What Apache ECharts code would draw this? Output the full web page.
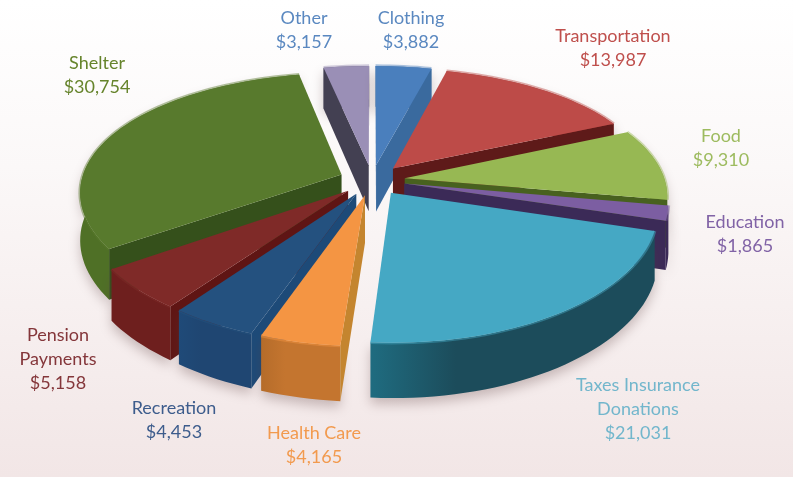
<!DOCTYPE html>
<html><head><meta charset="utf-8">
<style>html,body{margin:0;padding:0;width:793px;height:477px;overflow:hidden}#c{width:793px;height:477px}</style>
<script src="https://cdn.jsdelivr.net/npm/echarts@6/dist/echarts.min.js"></script></head>
<body><div id="c"></div>
<script>
const categories = ['Clothing','Transportation','Food','Education','Taxes Insurance\nDonations','Health Care','Recreation','Pension\nPayments','Shelter','Other'];
const values = [3882,13987,9310,1865,21031,4165,4453,5158,30754,3157];
const topColors = ['#4a7fbd','#bd4b48','#97b853','#7c5ea2','#45a8c4','#f49543','#24517f','#7f2a28','#587a2d','#9a8fb6'];
const wallColors = ['#3a6a9e','#8f2f2c','#6f8c36','#3b2a57','#1c4c5b','#c4752f','#1f4672','#6e1f1e','#4f7026','#46435a'];
const wallEdge = ['#3a6a9e','#8f2f2c','#6f8c36','#3b2a57','#1f6c80','#b56c2a','#1f4a78','#6e1f1e','#4f7026','#46435a'];
const cutColors = ['#3a6a9e','#5e1a19','#48611f','#3b2a57','#1f7186','#c4852f','#1d4a78','#5f1514','#35501b','#434052'];
const labelColors = ['#5a88c0','#bf4f4c','#9dbb5f','#8163a6','#72b6cc','#f29a4e','#3d5c8c','#84363a','#66842c','#5a88c0'];
const drawOrder = [9,0,8,1,2,3,7,4,6,5];
const labelAnchors = [[411,30],[613,48],[721,148],[745,234],[638,409],[314,445],[174,420],[58,359],[97,75],[304,30]];

const cx=372, cy=180, R=260, tilt=0.462, perspX=7.3, perspY=6, depth=47, explode=33;
const total = values.reduce((a,b)=>a+b,0);
const fmt = v => '$' + v.toLocaleString('en-US');

function pt(a, r, mid, z){
  const X = explode*Math.sin(mid) + r*R*Math.sin(a);
  const Y = explode*Math.cos(mid) + r*R*Math.cos(a);
  const px = perspX/(perspX+Y/R), py = perspY/(perspY+Y/R);
  return [cx+X*px, cy-Y*tilt*py+z*px];
}
function renderItem(params, api){
  const i = params.dataIndex;
  let before = 0;
  for(let k=0;k<i;k++) before += values[k];
  const v = api.value(0);
  const a0 = before/total*2*Math.PI, a1 = (before+v)/total*2*Math.PI, mid=(a0+a1)/2;
  const n = Math.max(3,Math.ceil((a1-a0)/(Math.PI/90)));
  const rimT=[], rimB=[];
  for(let k=0;k<=n;k++){const a=a0+(a1-a0)*k/n; rimT.push(pt(a,1,mid,0)); rimB.push(pt(a,1,mid,depth));}
  const A=pt(0,0,mid,0), Ab=pt(0,0,mid,depth);
  const base=drawOrder.indexOf(i)*10;
  const kids=[];
  const P=rimT[0], Q=rimT[n];
  function front(E,O){
    const ex=E[0]-A[0], ey=E[1]-A[1];
    return ex*(ex*(O[1]-A[1])-ey*(O[0]-A[0]))<0;
  }
  kids.push({type:'polygon',z2:base+1,shape:{points:rimT.concat(rimB.slice().reverse())},
    style:{fill:{type:'linear',x:0,y:0,x2:1,y2:0,colorStops:[{offset:0,color:wallEdge[i]},{offset:0.3,color:wallColors[i]},{offset:1,color:wallColors[i]}]},
      shadowBlur:12,shadowColor:'rgba(90,60,60,0.3)',shadowOffsetY:6}});
  if(front(P,Q)) kids.push({type:'polygon',z2:base+2,shape:{points:[A,P,rimB[0],Ab]},style:{fill:cutColors[i]}});
  if(front(Q,P)) kids.push({type:'polygon',z2:base+2,shape:{points:[A,Q,rimB[n],Ab]},style:{fill:cutColors[i]}});
  kids.push({type:'polyline',z2:base+3,shape:{points:rimT},style:{fill:null,stroke:topColors[i],lineWidth:3.5,opacity:0.45}});
  kids.push({type:'polygon',z2:base+4,shape:{points:[A].concat(rimT)},style:{fill:topColors[i]}});
  kids.push({type:'text',z2:500,style:{text:categories[i]+'\n'+fmt(v),x:labelAnchors[i][0],y:labelAnchors[i][1],
    align:'center',verticalAlign:'middle',fill:labelColors[i],font:'18px Lato, "Open Sans", sans-serif',lineHeight:24}});
  return {type:'group',children:kids};
}
const chart = echarts.init(document.getElementById('c'),null,{renderer:'canvas'});
chart.setOption({
  animation:false,
  backgroundColor:{type:'linear',x:0,y:0,x2:0,y2:1,colorStops:[{offset:0,color:'#ffffff'},{offset:0.35,color:'#fbf8f8'},{offset:1,color:'#f2e6e6'}]},
  series:[{type:'custom',coordinateSystem:'none',renderItem,encode:{value:0},
    data:values.map((v,i)=>({name:categories[i],value:[v]}))}]
});
</script></body></html>
